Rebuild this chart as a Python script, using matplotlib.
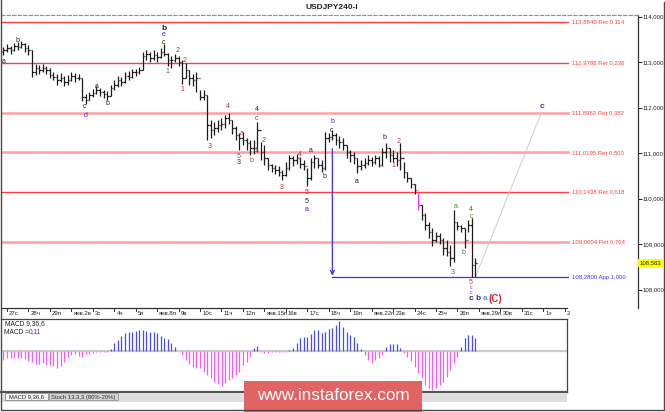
import matplotlib

matplotlib.use("Agg")
import matplotlib.pyplot as plt
import matplotlib.transforms as mtransforms
import numpy as np
from matplotlib.collections import LineCollection
from matplotlib.patches import Rectangle

W, H = 665, 412

# ---- data (USDJPY H4) ----
day_labels = ["27с", "28ч", "29п", "янв.2в", "3с", "4ч", "5п", "янв.8п", "9в", "10с",
              "11ч", "12п", "янв.15п", "16в", "17с", "18ч", "19п", "янв.22п", "23в",
              "24с", "25ч", "26п", "янв.29п", "30в", "31с", "1ч", "2"]
first_bar = -2  # index of first visible bar, 0 = first bar of 27 Dec

bar_high = [113.31, 113.34, 113.40, 113.36, 113.42, 113.45, 113.47, 113.42, 113.38, 113.27,
            112.96, 112.94, 112.96, 112.92, 112.87, 112.79, 112.74, 112.76, 112.70, 112.72,
            112.79, 112.76, 112.74, 112.65, 112.30, 112.35, 112.41, 112.48, 112.43, 112.39,
            112.37, 112.50, 112.61, 112.70, 112.68, 112.79, 112.81, 112.85, 112.85, 112.90,
            113.23, 113.27, 113.23, 113.27, 113.23, 113.31, 113.40, 113.20, 113.14, 113.18,
            113.14, 113.05, 112.98, 112.83, 112.74, 112.79, 112.39, 112.39, 112.28, 111.73,
            111.69, 111.73, 111.77, 111.84, 111.88, 111.73, 111.60, 111.44, 111.47, 111.33,
            111.29, 111.29, 111.69, 111.25, 111.18, 110.89, 110.76, 110.74, 110.72, 110.63,
            110.81, 110.96, 110.94, 110.98, 110.92, 110.85, 110.67, 110.89, 110.96, 110.89,
            110.85, 111.47, 111.44, 111.51, 111.44, 111.38, 111.33, 111.18, 111.07, 111.03,
            110.89, 110.85, 110.89, 110.96, 110.92, 110.96, 110.94, 111.11, 111.22, 111.11,
            111.07, 111.03, 111.22, 110.81, 110.59, 110.45, 110.32, 110.12, 109.86, 109.68,
            109.49, 109.35, 109.27, 109.24, 109.13, 109.09, 108.98, 109.75, 109.49, 109.42,
            109.35, 109.53, 109.57, 108.69]
bar_low = [113.14, 113.16, 113.23, 113.18, 113.25, 113.27, 113.31, 113.23, 113.16, 112.68,
           112.72, 112.74, 112.79, 112.74, 112.65, 112.61, 112.50, 112.57, 112.48, 112.50,
           112.59, 112.57, 112.61, 112.15, 112.08, 112.17, 112.24, 112.30, 112.26, 112.21,
           112.17, 112.26, 112.39, 112.46, 112.48, 112.54, 112.61, 112.65, 112.70, 112.74,
           112.83, 113.05, 113.01, 113.05, 113.01, 113.09, 113.14, 112.92, 112.87, 113.01,
           112.92, 112.52, 112.65, 112.50, 112.48, 112.35, 112.17, 112.17, 111.29, 111.33,
           111.40, 111.47, 111.51, 111.55, 111.64, 111.42, 111.29, 111.07, 111.18, 111.07,
           110.96, 110.98, 111.03, 110.85, 110.74, 110.63, 110.59, 110.54, 110.50, 110.41,
           110.50, 110.63, 110.72, 110.76, 110.67, 110.63, 110.28, 110.41, 110.67, 110.67,
           110.59, 110.63, 111.25, 111.29, 111.18, 111.11, 111.07, 110.89, 110.81, 110.76,
           110.56, 110.63, 110.67, 110.74, 110.72, 110.76, 110.70, 110.72, 110.89, 110.81,
           110.81, 110.72, 110.63, 110.45, 110.37, 110.23, 110.10, 109.75, 109.53, 109.31,
           109.13, 108.96, 109.05, 109.00, 108.76, 108.74, 108.52, 108.61, 109.31, 109.27,
           108.91, 109.27, 108.28, 108.28]
bar_close = [113.23, 113.27, 113.31, 113.27, 113.36, 113.34, 113.40, 113.31, 113.27, 112.79,
             112.87, 112.83, 112.87, 112.83, 112.72, 112.68, 112.61, 112.65, 112.57, 112.61,
             112.70, 112.65, 112.65, 112.24, 112.17, 112.28, 112.32, 112.39, 112.35, 112.30,
             112.26, 112.43, 112.50, 112.61, 112.57, 112.70, 112.68, 112.79, 112.79, 112.83,
             113.14, 113.18, 113.09, 113.16, 113.12, 113.23, 113.18, 113.05, 113.05, 113.09,
             113.01, 112.65, 112.83, 112.65, 112.61, 112.65, 112.24, 112.28, 111.62, 111.51,
             111.55, 111.62, 111.64, 111.77, 111.73, 111.55, 111.40, 111.33, 111.29, 111.22,
             111.11, 111.11, 111.51, 111.03, 110.89, 110.74, 110.67, 110.63, 110.59, 110.52,
             110.67, 110.89, 110.85, 110.89, 110.76, 110.72, 110.45, 110.81, 110.89, 110.74,
             110.67, 111.33, 111.36, 111.40, 111.29, 111.25, 111.18, 111.03, 110.96, 110.89,
             110.72, 110.74, 110.78, 110.85, 110.81, 110.89, 110.74, 111.03, 111.11, 110.96,
             110.89, 110.85, 110.89, 110.59, 110.45, 110.32, 110.19, 109.86, 109.64, 109.42,
             109.27, 109.09, 109.18, 109.09, 108.91, 108.83, 108.69, 109.49, 109.40, 109.35,
             109.09, 109.42, 108.54, 108.583]
marked_bar = 115  # bar drawn in magenta on the reference
last_price = 108.583

macd_hist = [-0.11, -0.09, -0.07, -0.07, -0.07, -0.07, -0.07, -0.08, -0.10, -0.11,
             -0.13, -0.13, -0.12, -0.14, -0.14, -0.15, -0.17, -0.15, -0.11, -0.06,
             -0.04, -0.03, -0.05, -0.06, -0.03, -0.03, -0.02, -0.01, -0.01, -0.01,
             -0.01, 0.02, 0.08, 0.11, 0.15, 0.18, 0.19, 0.19, 0.20, 0.21,
             0.21, 0.20, 0.19, 0.19, 0.18, 0.15, 0.13, 0.12, 0.08, 0.04,
             0.00, -0.04, -0.09, -0.13, -0.16, -0.17, -0.17, -0.21, -0.24, -0.27,
             -0.31, -0.33, -0.35, -0.32, -0.29, -0.27, -0.24, -0.21, -0.14, -0.11,
             -0.06, 0.03, 0.05, -0.01, -0.02, -0.02, -0.01, -0.01, -0.005, -0.005,
             -0.005, 0.01, 0.03, 0.08, 0.13, 0.14, 0.14, 0.17, 0.21, 0.21,
             0.18, 0.19, 0.22, 0.23, 0.26, 0.30, 0.24, 0.19, 0.16, 0.14,
             0.08, 0.02, -0.04, -0.09, -0.12, -0.09, -0.07, -0.04, 0.04, 0.07,
             0.07, 0.07, 0.03, -0.02, -0.06, -0.10, -0.16, -0.22, -0.27, -0.34,
             -0.37, -0.39, -0.37, -0.34, -0.31, -0.26, -0.19, -0.12, -0.06, 0.04,
             0.13, 0.16, 0.16, 0.13]
macd_now = 0.11

level_prices = [113.8840, 112.9786, 111.8952, 111.0195, 110.1438, 109.0604]
level_ratios = [0.114, 0.236, 0.382, 0.500, 0.618, 0.764]
target_price = 108.2800
target_ratio = 1.000
price_ticks = [108, 109, 110, 111, 112, 113, 114]

# wave marks: (bar index, price, text, colour key)
wave_labels = [
    (-0.8, 113.01, "a", "k"), (2.8, 113.47, "b", "k"), (21.8, 112.02, "c", "k"),
    (22.1, 111.82, "d", "b"), (25.2, 112.46, "a", "k"), (28.0, 112.10, "b", "k"),
    (43.9, 113.60, "e", "b"), (43.9, 113.44, "c", "k"), (45.0, 112.79, "1", "s"),
    (47.8, 113.25, "2", "s"), (49.0, 112.41, "1", "r"), (49.8, 113.03, "2", "r"),
    (56.8, 111.14, "3", "r"), (61.8, 112.02, "4", "r"), (65.7, 111.44, "a", "r"),
    (64.9, 110.92, "5", "r"), (64.9, 110.79, "3", "k"), (68.5, 110.83, "b", "r"),
    (69.9, 111.97, "4", "k"), (69.9, 111.77, "c", "r"), (69.7, 111.05, "1", "r"),
    (71.9, 111.27, "2", "r"), (76.9, 110.24, "3", "r"), (82.0, 110.98, "4", "r"),
    (85.0, 111.05, "a", "k"), (88.7, 110.48, "b", "k"), (83.9, 110.13, "5", "r"),
    (83.9, 109.93, "5", "k"), (83.9, 109.77, "a", "b"), (90.9, 111.69, "b", "b"),
    (90.9, 111.51, "c", "k"), (97.9, 110.37, "a", "k"), (105.7, 111.34, "b", "k"),
    (108.0, 110.74, "1", "r"), (109.6, 111.25, "2", "r"), (125.6, 109.82, "a", "g"),
    (129.8, 109.77, "4", "r"), (129.8, 109.62, "c", "g"), (127.6, 108.81, "b", "g"),
    (124.8, 108.37, "3", "r"), (129.8, 108.16, "5", "r"),
]
# tiny stacked marks under the last low
stack_labels = [(129.8, 108.05, "c", "b"), (129.8, 107.95, "c", "b")]
# larger / bold marks
major_labels = [
    (43.9, 113.75, "b", "k"), (129.8, 107.80, "c", "k"), (131.7, 107.80, "b", "b"),
    (133.7, 107.80, "a", "c"), (136.6, 107.80, "(C)", "r"), (149.7, 112.02, "c", "b"),
]
target_from = (131, 108.28)
target_to = (149.3, 111.85)
arrow_bar = 91
arrow_top = 111.10

COLORS = {"k": "#262626", "r": "#c03030", "b": "#2a2af0", "g": "#2f8f2f",
          "s": "#4a5a80", "c": "#3fa0e0"}
LEVEL_RED = "#ff4040"
LEVEL_PINK = "#ffb0b0"
BLUE = "#3535f0"
FONT = "Liberation Sans"

# ---- layout helpers (pixel geometry of the reference) ----
BAR_PX = 3.575
K0_PX = 7.0


def k_at(px):
    return (px - K0_PX) / BAR_PX


def px_box(x0, y0, x1, y1):
    return [x0 / W, 1 - y1 / H, (x1 - x0) / W, (y1 - y0) / H]


plt.rcParams["font.family"] = [FONT, "DejaVu Sans"]
fig = plt.figure(figsize=(W / 100, H / 100), dpi=100)
fig.patch.set_facecolor("white")

# ---- price panel ----
ax = fig.add_axes(px_box(1, 15, 638, 308))
ax.set_xlim(k_at(1), k_at(638))
ax.set_ylim(107.599, 114.038)
for side in ("left", "bottom"):
    ax.spines[side].set_visible(False)
ax.spines["top"].set_linestyle((0, (3, 2)))
ax.spines["top"].set_color("#909090")
ax.spines["right"].set_color("#333333")
ax.spines["right"].set_linewidth(0.9)
ax.set_xticks([])
ax.yaxis.tick_right()
ax.set_yticks(price_ticks)
ax.set_yticklabels([f"{t:.3f}".replace(".", ",") for t in price_ticks])
ax.tick_params(axis="y", length=3, width=0.7, pad=0.5, labelsize=4.3, colors="#222222")

line_end = k_at(568)
lab_x = k_at(572)
for p, r in zip(level_prices, level_ratios):
    if r in (0.382, 0.500, 0.764):
        ax.plot([ax.get_xlim()[0], line_end], [p, p], color=LEVEL_PINK, lw=2.0, zorder=1)
        ax.plot([ax.get_xlim()[0], line_end], [p, p], color="#ff8080", lw=0.6,
                ls=(0, (1, 1.5)), zorder=1)
    else:
        ax.plot([ax.get_xlim()[0], line_end], [p, p], color=LEVEL_RED, lw=1.0, zorder=1)
    ax.text(lab_x, p, f"{p:.4f} Ret {r:.3f}".replace(".", ","), color=LEVEL_RED,
            fontsize=4.3, va="center", ha="left")
ax.plot([arrow_bar, line_end], [target_price, target_price], color=BLUE, lw=0.9, zorder=1)
ax.text(lab_x, target_price, f"{target_price:.4f} App {target_ratio:.3f}".replace(".", ","),
        color=BLUE, fontsize=4.3, va="center", ha="left")
ax.annotate("", xy=(arrow_bar, target_price + 0.03), xytext=(arrow_bar, arrow_top),
            arrowprops=dict(arrowstyle="->", color=BLUE, lw=0.9, mutation_scale=7,
                            shrinkA=0, shrinkB=0), zorder=2)
ax.plot([target_from[0], target_to[0]], [target_from[1], target_to[1]],
        color="#cfc6dc", lw=0.7, zorder=1)

# OHLC bars, open taken as previous close
ks = np.arange(len(bar_close)) + first_bar
closes = np.asarray(bar_close)
opens = np.r_[closes[0], closes[:-1]]
segs, cols = [], []
for k, o, h, l, c in zip(ks, opens, bar_high, bar_low, closes):
    col = "#ff30ff" if k == marked_bar else "#1c1c1c"
    segs += [[(k, l), (k, h)], [(k - 0.42, o), (k, o)], [(k, c), (k + 0.42, c)]]
    cols += [col] * 3
ax.add_collection(LineCollection(segs, colors=cols, linewidths=0.9, zorder=3))

for k, p, t, c in wave_labels:
    ax.text(k, p, t, color=COLORS[c], fontsize=5, ha="center", va="center", zorder=4)
for k, p, t, c in stack_labels:
    ax.text(k, p, t, color=COLORS[c], fontsize=3.6, ha="center", va="center", zorder=4)
for k, p, t, c in major_labels:
    size = 7 if t == "(C)" else 6
    ax.text(k, p, t, color=COLORS[c], fontsize=size, fontweight="bold",
            ha="center", va="center", zorder=4, clip_on=False)

# current price tag
ytr = mtransforms.blended_transform_factory(ax.transAxes, ax.transData)
ax.text(1.003, last_price, f"{last_price:.3f}".replace(".", ","), transform=ytr,
        fontsize=4.3, va="center", ha="left", color="#222222",
        bbox=dict(boxstyle="square,pad=0.25", fc="#ffff00", ec="none"), clip_on=False)

# date axis under the price panel
xtr = mtransforms.blended_transform_factory(ax.transData, ax.transAxes)
ax_h = 308 - 15
ax.plot([k_at(1), k_at(567)], [0, 0], transform=xtr, color="#333333", lw=0.9, clip_on=False)
for i, lab in enumerate(day_labels):
    k = 6 * i
    ax.plot([k, k], [0, -3 / ax_h], transform=xtr, color="#333333", lw=0.7, clip_on=False)
    ax.text(k + 0.6, -5.5 / ax_h, lab, transform=xtr, fontsize=4.3, ha="left", va="center",
            color="#222222", clip_on=False)

# ---- MACD panel ----
am = fig.add_axes(px_box(1, 319, 567, 392))
am.set_xlim(k_at(1), k_at(567))
am.set_ylim(-0.41, 0.32)
am.set_xticks([])
am.set_yticks([])
am.spines["left"].set_visible(False)
for side in ("top", "right"):
    am.spines[side].set_color("#444444")
    am.spines[side].set_linewidth(0.9)
am.spines["bottom"].set_color("#555555")
am.spines["bottom"].set_linewidth(1.6)
am.axhline(0, color="#cccccc", lw=1.6, zorder=1)
hist = np.asarray(macd_hist)
hk = np.arange(len(hist)) + first_bar
am.vlines(hk[hist >= 0], 0, hist[hist >= 0], colors="#4d4de0", lw=0.9, zorder=2)
am.vlines(hk[hist < 0], 0, hist[hist < 0], colors="#f060f0", lw=0.9, zorder=2)
am.text(4 / 566, 1 - 5 / 73, "MACD 9,36,6", transform=am.transAxes, fontsize=4.8,
        va="center", ha="left", color="#222222")
am.text(3 / 566, 1 - 13 / 73, "MACD =", transform=am.transAxes, fontsize=4.8,
        va="center", ha="left", color="#222222")
am.text(28 / 566, 1 - 13 / 73, f"{macd_now:.2f}".replace(".", ","), transform=am.transAxes,
        fontsize=4.8, va="center", ha="left", color=BLUE)

# ---- frame, title, tabs, watermark (pixel overlay) ----
ov = fig.add_axes([0, 0, 1, 1], zorder=10)
ov.set_xlim(0, W)
ov.set_ylim(H, 0)
ov.axis("off")
ov.text(332, 7, "USDJPY240-I", fontsize=6, fontweight="bold", ha="center", va="center",
        color="#222222")
ov.add_patch(Rectangle((1, 393), 566, 9, fc="#dedede", ec="none"))
ov.add_patch(Rectangle((5, 393), 43, 7, fc="#f4f4f4", ec="#777777", lw=0.5))
ov.text(26.5, 397, "MACD 9,36,6", fontsize=4.2, ha="center", va="center", color="#222222")
ov.add_patch(Rectangle((49, 393), 69, 7, fc="#d2d2d2", ec="#888888", lw=0.5))
ov.text(83.5, 397, "Stoch 13,3,3 (80%-20%)", fontsize=4.2, ha="center", va="center",
        color="#333333")
ov.plot([1, 1, 664, 664], [0, 410, 410, 2], color="#4a4a4a", lw=1.0)
ov.add_patch(Rectangle((244, 381), 178, 31, fc="#e06464", ec="none"))
ov.text(333, 396, "www.instaforex.com", fontsize=12.3, color="white", ha="center",
        va="center", family=[FONT, "DejaVu Sans"])

fig.savefig("out.png", dpi=100, facecolor="white")
